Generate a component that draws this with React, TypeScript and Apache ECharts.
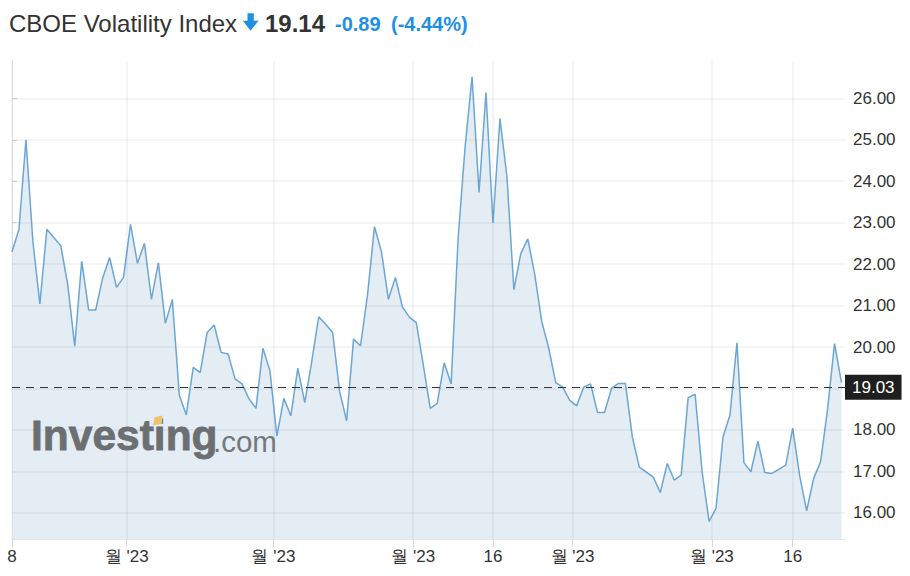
import React, { useEffect, useRef } from "react";
import * as echarts from "echarts";

// Daily closes, 8 Dec 2022 → 25 May 2023
const values: number[] = [
  22.3, 22.84, 25.0, 22.54, 21.04, 22.84, 22.64, 22.44, 21.5, 20.02,
  22.07, 20.89, 20.89, 21.66, 22.16, 21.44, 21.68, 22.96, 22.02, 22.5,
  21.15, 22.03, 20.57, 21.15, 18.84, 18.36, 19.51, 19.38, 20.35, 20.53,
  19.87, 19.83, 19.23, 19.11, 18.75, 18.52, 19.97, 19.43, 17.85, 18.76,
  18.34, 19.49, 18.66, 19.65, 20.73, 20.55, 20.35, 18.93, 18.22, 20.19,
  20.03, 21.25, 22.9, 22.3, 21.15, 21.68, 20.97, 20.72, 20.59, 19.57,
  18.52, 18.64, 19.62, 19.11, 22.62, 24.83, 26.52, 23.73, 26.14, 22.99,
  25.51, 24.12, 21.38, 22.26, 22.61, 21.74, 20.61, 19.97, 19.14, 19.03,
  18.72, 18.58, 19.03, 19.11, 18.42, 18.42, 19.0, 19.12, 19.12, 17.82,
  17.1, 16.98, 16.86, 16.49, 17.19, 16.79, 16.91, 18.78, 18.86, 16.99,
  15.79, 16.11, 17.83, 18.36, 20.1, 17.21, 16.99, 17.73, 16.97, 16.95,
  17.05, 17.15, 18.04, 16.89, 16.05, 16.83, 17.23, 18.5, 20.08, 19.14,
];

const tickPositions: number[] = [0, 16.45, 37.5, 57.55, 69, 80.4, 100.4, 112];
const tickLabels: string[] = ["8", "월 '23", "월 '23", "월 '23", "16", "월 '23", "월 '23", "16"];
const yTicks: number[] = [16, 17, 18, 19, 20, 21, 22, 23, 24, 25, 26];
const refLevel = 19.03;

const titleText = "CBOE Volatility Index";
const lastPrice = "19.14";
const changeText = "-0.89";
const changePctText = "(-4.44%)";

const FONT = "'Liberation Sans', Arial, Helvetica, sans-serif";
const BLUE = "#1e8fe3";

function labelFor(v: number): string {
  let best = 0;
  let bestD = Infinity;
  tickPositions.forEach((p, i) => {
    const d = Math.abs(p - v);
    if (d < bestD) {
      bestD = d;
      best = i;
    }
  });
  return bestD < 0.01 ? tickLabels[best] : "";
}

export default function App() {
  const ref = useRef<HTMLDivElement>(null);

  useEffect(() => {
    if (!ref.current) return;
    const chart = echarts.init(ref.current, null, { renderer: "svg" });

    const gridStyle = { color: "rgba(40,60,90,0.05)", width: 2, type: "solid" };

    const option: any = {
      animation: false,
      backgroundColor: "#ffffff",
      textStyle: { fontFamily: FONT },
      grid: { left: 12, right: 65, top: 61, bottom: 37 },
      xAxis: {
        type: "value",
        min: 0,
        max: 119.5,
        axisLine: { show: true, lineStyle: { color: "#e1e6ec", width: 1 } },
        axisTick: {
          show: true,
          customValues: tickPositions,
          length: 8,
          lineStyle: { color: "#d3d9e0" },
        },
        axisLabel: {
          customValues: tickPositions,
          formatter: (v: number) => labelFor(v),
          color: "#333333",
          fontSize: 17,
          fontFamily: FONT,
          margin: 9,
        },
        splitLine: { show: false },
      },
      yAxis: {
        type: "value",
        position: "right",
        min: 15.368,
        max: 26.9,
        axisLine: { show: true, lineStyle: { color: "#dfe5ec", width: 1 } },
        axisTick: {
          show: true,
          customValues: yTicks,
          length: 5,
          lineStyle: { color: "#d3d9e0" },
        },
        axisLabel: {
          customValues: yTicks,
          formatter: (v: number) => v.toFixed(2),
          color: "#333333",
          fontSize: 17,
          fontFamily: FONT,
          margin: 8,
        },
        splitLine: { show: false },
      },
      series: [
        {
          type: "line",
          data: values.map((v, i) => [i, v]),
          symbol: "none",
          lineStyle: { color: "#6ca6d5", width: 1.5 },
          areaStyle: { color: "#e4edf4", opacity: 1, origin: "start" },
          markLine: {
            silent: true,
            symbol: ["none", "none"],
            label: { show: false },
            lineStyle: gridStyle,
            data: [
              ...yTicks.map((v) => ({ yAxis: v, lineStyle: gridStyle })),
              ...tickPositions.map((p) => ({ xAxis: p, lineStyle: gridStyle })),
              {
                yAxis: refLevel,
                lineStyle: { color: "#333333", width: 1, type: [8, 6] },
                label: {
                  show: true,
                  position: "end",
                  distance: 0,
                  formatter: refLevel.toFixed(2),
                  color: "#ffffff",
                  backgroundColor: "#1f1f1f",
                  padding: [4, 7, 4, 7],
                  fontSize: 17,
                  fontFamily: FONT,
                },
              },
            ],
          },
        },
      ],
      graphic: [
        {
          type: "text",
          x: 9,
          y: 23.3,
          style: {
            text: titleText,
            font: `24px ${FONT}`,
            fill: "#333333",
            align: "left",
            verticalAlign: "middle",
          },
        },
        {
          type: "polygon",
          shape: {
            points: [
              [247.5, 13.3],
              [253.8, 13.3],
              [253.8, 20.7],
              [258.5, 20.7],
              [250.6, 30.7],
              [242.8, 20.7],
              [247.5, 20.7],
            ],
          },
          style: { fill: BLUE },
        },
        {
          type: "text",
          x: 265,
          y: 23.3,
          style: {
            text: lastPrice,
            font: `bold 24px ${FONT}`,
            fill: "#333333",
            align: "left",
            verticalAlign: "middle",
          },
        },
        {
          type: "text",
          x: 335,
          y: 23.6,
          style: {
            text: changeText,
            font: `bold 20px ${FONT}`,
            fill: BLUE,
            align: "left",
            verticalAlign: "middle",
          },
        },
        {
          type: "text",
          x: 391,
          y: 23.6,
          style: {
            text: changePctText,
            font: `bold 20px ${FONT}`,
            fill: BLUE,
            align: "left",
            verticalAlign: "middle",
          },
        },
        // Investing.com watermark
        {
          type: "text",
          x: 31,
          y: 435.5,
          z: 10,
          style: {
            text: "Investing",
            font: `bold 42.5px ${FONT}`,
            fill: "#6c6f72",
            stroke: "#6c6f72",
            lineWidth: 0.8,
            align: "left",
            verticalAlign: "middle",
          },
        },
        {
          type: "text",
          x: 213,
          y: 441,
          z: 10,
          style: {
            text: ".com",
            font: `29.5px ${FONT}`,
            fill: "#75787b",
            align: "left",
            verticalAlign: "middle",
          },
        },
        {
          type: "polygon",
          z: 11,
          shape: {
            points: [
              [154.5, 417.3],
              [162.5, 415.6],
              [161.7, 424],
              [153, 425.2],
            ],
          },
          style: { fill: "#f2c36d" },
        },
      ],
    };

    chart.setOption(option);
    return () => chart.dispose();
  }, []);

  return (
    <div
      ref={ref}
      style={{ position: "fixed", left: 0, top: 0, width: 910, height: 576 }}
    />
  );
}
